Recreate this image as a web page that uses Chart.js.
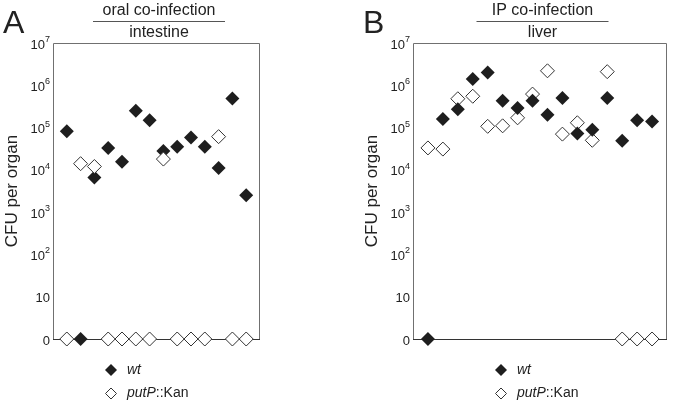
<!DOCTYPE html>
<html><head><meta charset="utf-8">
<script src="https://cdn.jsdelivr.net/npm/chart.js@4"></script>
<style>
html,body{margin:0;padding:0;background:#fff;width:675px;height:405px;overflow:hidden}
canvas{position:absolute;top:0}
#ca{left:0}
#cb{left:360px}
</style></head><body>
<canvas id="ca" width="360" height="405"></canvas>
<canvas id="cb" width="315" height="405"></canvas>
<script>
// Panel A: oral co-infection, intestine. CFU per organ, 0 = not detected.
const miceA = [1, 2, 3, 4, 5, 6, 7, 8, 9, 10, 11, 12, 13, 14];
const wtA   = [82000, 0, 6600, 33000, 15500, 250000, 150000, 28000, 35000, 58000, 35000, 11000, 490000, 2500];
const putA  = [0, 14000, 12000, 0, 0, 0, 0, 18000, 0, 0, 0, 61000, 0, 0];
// Panel B: IP co-infection, liver.
const miceB = [1, 2, 3, 4, 5, 6, 7, 8, 9, 10, 11, 12, 13, 14, 15, 16];
const wtB   = [0, 160000, 270000, 1400000, 2000000, 430000, 290000, 430000, 200000, 500000, 72000, 89000, 500000, 49000, 150000, 140000];
const putB  = [33000, 31000, 480000, 550000, 107000, 110000, 170000, 620000, 2200000, 70000, 130000, 50000, 2100000, 0, 0, 0];
// Y axis ticks (value 1 on the log axis is labelled "0")
const tickValues = [1, 10, 100, 1e3, 1e4, 1e5, 1e6, 1e7];
const tickBase   = ['0', '10', '10', '10', '10', '10', '10', '10'];
const tickExp    = ['', '', '2', '3', '4', '5', '6', '7'];
const seriesNames = ['wt', 'putP::Kan'];
const axisTitle = 'CFU per organ';

const FONT = "'Liberation Sans', Arial, Helvetica, sans-serif";
const TXT = '#222';
const ZERO_AT = 1;

function diamond(ctx, x, y, r, fill, stroke) {
  ctx.beginPath();
  ctx.moveTo(x - r, y); ctx.lineTo(x, y - r); ctx.lineTo(x + r, y); ctx.lineTo(x, y + r); ctx.closePath();
  if (fill) { ctx.fillStyle = fill; ctx.fill(); }
  if (stroke) { ctx.strokeStyle = stroke; ctx.lineWidth = 1; ctx.stroke(); }
}

const decor = {
  id: 'decor',
  beforeDatasetsDraw(chart, args, o) {
    const {ctx, chartArea: a} = chart;
    ctx.save();
    ctx.lineWidth = 1;
    ctx.strokeStyle = '#707070';
    ctx.beginPath();
    ctx.moveTo(a.left + 0.5, a.bottom); ctx.lineTo(a.left + 0.5, a.top + 0.5);
    ctx.lineTo(a.right - 0.5, a.top + 0.5); ctx.lineTo(a.right - 0.5, a.bottom);
    ctx.stroke();
    const yb = Math.round(chart.scales.y.getPixelForValue(ZERO_AT)) + 0.5;
    ctx.strokeStyle = '#333';
    ctx.beginPath(); ctx.moveTo(a.left, yb); ctx.lineTo(a.right, yb); ctx.stroke();
    ctx.restore();
  },
  afterDraw(chart, args, o) {
    const {ctx, chartArea: a} = chart;
    const ys = chart.scales.y;
    ctx.save();
    ctx.fillStyle = TXT;
    // panel letter
    ctx.font = '32px ' + FONT;
    ctx.textAlign = 'left'; ctx.textBaseline = 'alphabetic';
    ctx.fillText(o.letter, 3, 33);
    // titles
    const cx = (a.left + a.right) / 2 + 2.5;
    ctx.font = '16px ' + FONT;
    ctx.textAlign = 'center';
    ctx.fillText(o.title1, cx, 15);
    ctx.fillText(o.title2, cx, 37);
    ctx.strokeStyle = '#555'; ctx.lineWidth = 1;
    ctx.beginPath(); ctx.moveTo(cx - 66, 21.5); ctx.lineTo(cx + 66, 21.5); ctx.stroke();
    // y tick labels
    const xr = a.left - 3;
    tickValues.forEach((v, i) => {
      const y = ys.getPixelForValue(v);
      let ew = 0;
      if (tickExp[i]) {
        ctx.font = '9px ' + FONT;
        ew = ctx.measureText(tickExp[i]).width;
        ctx.textAlign = 'right'; ctx.textBaseline = 'alphabetic';
        ctx.fillText(tickExp[i], xr, y - 1);
      }
      ctx.font = '13px ' + FONT;
      ctx.textAlign = 'right'; ctx.textBaseline = 'middle';
      ctx.fillText(tickBase[i], xr - ew, y + 2);
    });
    // axis title
    ctx.save();
    ctx.translate(12, (a.top + a.bottom) / 2);
    ctx.rotate(-Math.PI / 2);
    ctx.font = '17px ' + FONT;
    ctx.textAlign = 'center'; ctx.textBaseline = 'middle';
    ctx.fillText(axisTitle, 0, 0);
    ctx.restore();
    // legend
    const lx = o.legendX;
    diamond(ctx, lx, 370, 6, '#1e1e1e', null);
    diamond(ctx, lx, 393.5, 5.5, '#fff', '#333');
    ctx.fillStyle = TXT;
    ctx.textAlign = 'left'; ctx.textBaseline = 'middle';
    ctx.font = 'italic 14px ' + FONT;
    ctx.fillText(seriesNames[0], lx + 16, 370);
    const parts = seriesNames[1].split('::');
    ctx.fillText(parts[0], lx + 16, 393);
    const w0 = ctx.measureText(parts[0]).width;
    ctx.font = '14px ' + FONT;
    ctx.fillText('::' + parts[1], lx + 16 + w0, 393);
    ctx.restore();
  }
};

function makeChart(id, mice, wt, put, xMax, pad, opts, openOnTop) {
  const toPts = arr => mice.map((m, i) => ({x: m, y: arr[i] > 0 ? arr[i] : ZERO_AT}));
  return new Chart(document.getElementById(id), {
    type: 'scatter',
    data: {
      datasets: [
        { label: seriesNames[0], data: toPts(wt), pointStyle: 'rectRot', pointRadius: 7, pointHoverRadius: 7,
          backgroundColor: '#1e1e1e', borderColor: '#1e1e1e', borderWidth: 0, order: openOnTop ? 1 : 0, clip: false },
        { label: seriesNames[1], data: toPts(put), pointStyle: 'rectRot', pointRadius: 7, pointHoverRadius: 7,
          backgroundColor: '#ffffff', borderColor: '#333333', borderWidth: 1, order: openOnTop ? 0 : 1, clip: false }
      ]
    },
    options: {
      responsive: false, animation: false, devicePixelRatio: 1,
      layout: { padding: pad },
      scales: {
        x: { type: 'linear', min: 0, max: xMax, display: false },
        y: { type: 'logarithmic', min: 1, max: 1e7, display: false }
      },
      plugins: { legend: { display: false }, tooltip: { enabled: false }, decor: opts }
    },
    plugins: [decor]
  });
}

makeChart('ca', miceA, wtA, putA, 15, {left: 53, right: 100, top: 43, bottom: 66},
  {letter: 'A', title1: 'oral co-infection', title2: 'intestine', legendX: 111}, true);
makeChart('cb', miceB, wtB, putB, 17, {left: 53, right: 5, top: 43, bottom: 66},
  {letter: 'B', title1: 'IP co-infection', title2: 'liver', legendX: 141}, false);
</script>
</body></html>
